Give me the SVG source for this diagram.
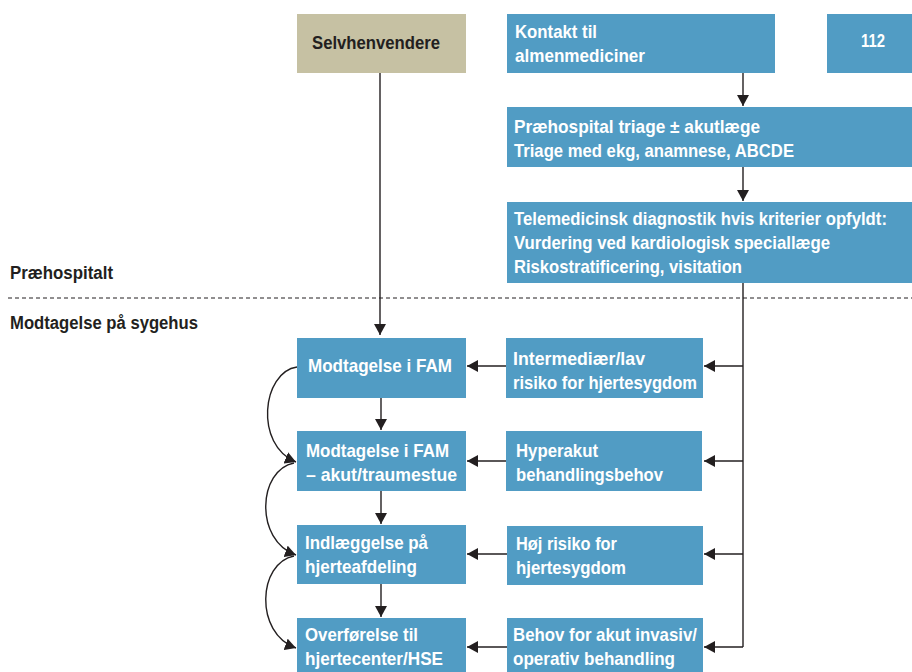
<svg xmlns="http://www.w3.org/2000/svg" width="912" height="672" viewBox="0 0 912 672">
<style>
.b{fill:#519cc4}
.s{fill:#c6c1a3}
.t{font-family:"Liberation Sans",Arial,sans-serif;font-weight:bold;font-size:18.5px;fill:#ffffff}
.l{font-family:"Liberation Sans",Arial,sans-serif;font-weight:bold;font-size:17.5px;fill:#231f20}
.c{fill:none;stroke:#231f20;stroke-width:1.4}
</style>
<defs>
<marker id="ah" viewBox="0 0 11 12" refX="11" refY="6" markerWidth="11" markerHeight="12" markerUnits="userSpaceOnUse" orient="auto">
<path d="M0,0 L11,6 L0,12 Z" fill="#231f20"/>
</marker>
</defs>
<rect width="912" height="672" fill="#ffffff"/>
<g id="lane-labels">
<text class="l" x="10" y="279" textLength="103" lengthAdjust="spacingAndGlyphs">Præhospitalt</text>
<text class="l" x="10" y="329" textLength="188" lengthAdjust="spacingAndGlyphs">Modtagelse på sygehus</text>
<line x1="8" y1="298" x2="912" y2="298" stroke="#231f20" stroke-width="1" stroke-dasharray="4 3"/>
</g>
<g id="connectors">
<path class="c" d="M380,73 V335" marker-end="url(#ah)"/>
<path class="c" d="M743,73 V106" marker-end="url(#ah)"/>
<path class="c" d="M743,167 V201" marker-end="url(#ah)"/>
<path class="c" d="M743,283 V647"/>
<path class="c" d="M743,366 H704" marker-end="url(#ah)"/>
<path class="c" d="M743,461 H704" marker-end="url(#ah)"/>
<path class="c" d="M743,554 H704" marker-end="url(#ah)"/>
<path class="c" d="M743,647 H704" marker-end="url(#ah)"/>
<path class="c" d="M507,366 H467" marker-end="url(#ah)"/>
<path class="c" d="M507,461 H467" marker-end="url(#ah)"/>
<path class="c" d="M507,554 H467" marker-end="url(#ah)"/>
<path class="c" d="M507,647 H467" marker-end="url(#ah)"/>
<path class="c" d="M381,398 V430" marker-end="url(#ah)"/>
<path class="c" d="M381,491 V524" marker-end="url(#ah)"/>
<path class="c" d="M381,584 V617" marker-end="url(#ah)"/>
<path class="c" d="M297,367 C262,372 254,445 296,462" marker-end="url(#ah)"/>
<path class="c" d="M294,463 C258,470 254,540 296,555" marker-end="url(#ah)"/>
<path class="c" d="M294,556 C258,563 254,633 296,648" marker-end="url(#ah)"/>
</g>
<g id="selvhenvendere">
<rect class="s" x="297" y="14" width="169" height="59"/>
<text class="l" x="312" y="49" textLength="128" lengthAdjust="spacingAndGlyphs" style="font-size:18.5px">Selvhenvendere</text>
</g>
<g id="kontakt">
<rect class="b" x="507" y="14" width="268" height="59"/>
<text class="t" x="515" y="38" textLength="82" lengthAdjust="spacingAndGlyphs">Kontakt til</text>
<text class="t" x="515" y="62" textLength="130" lengthAdjust="spacingAndGlyphs">almenmediciner</text>
</g>
<g id="n112">
<rect class="b" x="827" y="14" width="85" height="59"/>
<text class="t" x="861" y="47" textLength="24" lengthAdjust="spacingAndGlyphs">112</text>
</g>
<g id="triage">
<rect class="b" x="507" y="107" width="405" height="60"/>
<text class="t" x="514" y="133" textLength="246" lengthAdjust="spacingAndGlyphs">Præhospital triage ± akutlæge</text>
<text class="t" x="514" y="157" textLength="280" lengthAdjust="spacingAndGlyphs">Triage med ekg, anamnese, ABCDE</text>
</g>
<g id="telemed">
<rect class="b" x="507" y="202" width="405" height="81"/>
<text class="t" transform="scale(0.86,1)" x="597.67" y="225" textLength="433.7" lengthAdjust="spacingAndGlyphs">Telemedicinsk diagnostik hvis kriterier opfyldt:</text>
<text class="t" x="514" y="249" textLength="316" lengthAdjust="spacingAndGlyphs">Vurdering ved kardiologisk speciallæge</text>
<text class="t" x="514" y="273" textLength="228" lengthAdjust="spacingAndGlyphs">Riskostratificering, visitation</text>
</g>
<g id="fam">
<rect class="b" x="297" y="338" width="169" height="60"/>
<text class="t" x="308" y="372" textLength="144" lengthAdjust="spacingAndGlyphs">Modtagelse i FAM</text>
</g>
<g id="intermediaer">
<rect class="b" x="506" y="338" width="197" height="60"/>
<text class="t" x="513" y="365" textLength="132" lengthAdjust="spacingAndGlyphs">Intermediær/lav</text>
<text class="t" x="513" y="389" textLength="184" lengthAdjust="spacingAndGlyphs">risiko for hjertesygdom</text>
</g>
<g id="fam-akut">
<rect class="b" x="297" y="431" width="169" height="60"/>
<text class="t" x="306" y="457" textLength="143" lengthAdjust="spacingAndGlyphs">Modtagelse i FAM</text>
<text class="t" x="306" y="481" textLength="151" lengthAdjust="spacingAndGlyphs">– akut/traumestue</text>
</g>
<g id="hyperakut">
<rect class="b" x="506" y="431" width="196" height="60"/>
<text class="t" x="516" y="457" textLength="82" lengthAdjust="spacingAndGlyphs">Hyperakut</text>
<text class="t" x="516" y="481" textLength="147" lengthAdjust="spacingAndGlyphs">behandlingsbehov</text>
</g>
<g id="indlaeggelse">
<rect class="b" x="297" y="525" width="169" height="59"/>
<text class="t" x="305" y="549" textLength="123" lengthAdjust="spacingAndGlyphs">Indlæggelse på</text>
<text class="t" x="305" y="573" textLength="112" lengthAdjust="spacingAndGlyphs">hjerteafdeling</text>
</g>
<g id="hoej-risiko">
<rect class="b" x="507" y="526" width="196" height="59"/>
<text class="t" x="516" y="550" textLength="101" lengthAdjust="spacingAndGlyphs">Høj risiko for</text>
<text class="t" x="516" y="574" textLength="110" lengthAdjust="spacingAndGlyphs">hjertesygdom</text>
</g>
<g id="overfoerelse">
<rect class="b" x="297" y="618" width="169" height="54"/>
<text class="t" x="305" y="641" textLength="113" lengthAdjust="spacingAndGlyphs">Overførelse til</text>
<text class="t" x="305" y="665" textLength="138" lengthAdjust="spacingAndGlyphs">hjertecenter/HSE</text>
</g>
<g id="behov">
<rect class="b" x="507" y="618" width="196" height="54"/>
<text class="t" x="513" y="641" textLength="184" lengthAdjust="spacingAndGlyphs">Behov for akut invasiv/</text>
<text class="t" x="513" y="665" textLength="162" lengthAdjust="spacingAndGlyphs">operativ behandling</text>
</g>
</svg>
